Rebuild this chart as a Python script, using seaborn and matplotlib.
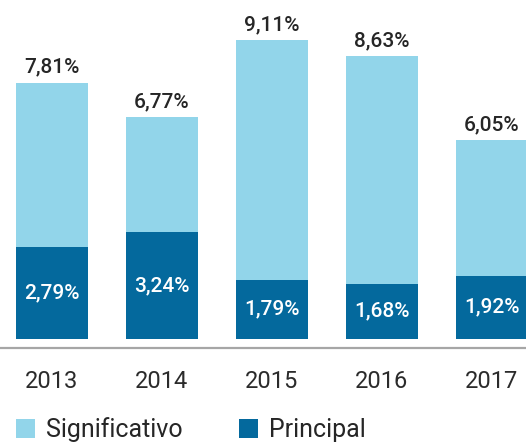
import matplotlib
matplotlib.use("Agg")
import matplotlib.pyplot as plt
import seaborn as sns
import pandas as pd
from matplotlib.patches import Patch

years = ["2013", "2014", "2015", "2016", "2017"]
significativo = [7.81, 6.77, 9.11, 8.63, 6.05]
principal = [2.79, 3.24, 1.79, 1.68, 1.92]

LIGHT = "#92D5EA"
DARK = "#04699D"

sns.set_theme(style="white")
plt.rcParams["font.family"] = ["Roboto", "DejaVu Sans"]

df = pd.DataFrame({"year": years, "significativo": significativo, "principal": principal})

W, H = 526, 442
fig = plt.figure(figsize=(W / 100, H / 100), dpi=100)
line_y = 94.3
ax = fig.add_axes([0, line_y / H, 1, (H - line_y) / H])

sns.barplot(data=df, x="year", y="significativo", color=LIGHT, saturation=1,
            width=0.655, linewidth=0, ax=ax)
sns.barplot(data=df, x="year", y="principal", color=DARK, saturation=1,
            width=0.655, linewidth=0, ax=ax)

ppu = 32.8
ax.set_xlim(-52 / 110, (W - 52) / 110)
ax.set_ylim(-9 / ppu, (H - line_y - 9) / ppu)

def fmt(v):
    return f"{v:.2f}".replace(".", ",") + "%"

for i, v in enumerate(significativo):
    ax.annotate(fmt(v), (i, v), xytext=(0, 7), textcoords="offset points",
                ha="center", va="baseline", fontsize=15, fontweight="medium",
                color="#262626")
for i, v in enumerate(principal):
    ax.text(i, v / 2, fmt(v), ha="center", va="center", fontsize=15,
            fontweight="medium", color="white")

ax.set_xlabel("")
ax.set_ylabel("")
ax.set_yticks([])
ax.tick_params(axis="x", length=0, pad=16, labelsize=17, labelcolor="#2B2B2B")
for side in ["top", "left", "right"]:
    ax.spines[side].set_visible(False)
ax.spines["bottom"].set_color("#A6A6A6")
ax.spines["bottom"].set_linewidth(1.6)

handles = [Patch(facecolor=LIGHT, edgecolor="none"),
           Patch(facecolor=DARK, edgecolor="none")]
fig.legend(handles, ["Significativo", "Principal"], loc="upper left",
           bbox_to_anchor=(-7 / W, 1 - 395 / H), ncol=2, frameon=False,
           fontsize=18, handlelength=0.76, handleheight=0.76,
           handletextpad=0.45, columnspacing=2.25, labelcolor="#262626")

fig.savefig("out.png", dpi=100)
